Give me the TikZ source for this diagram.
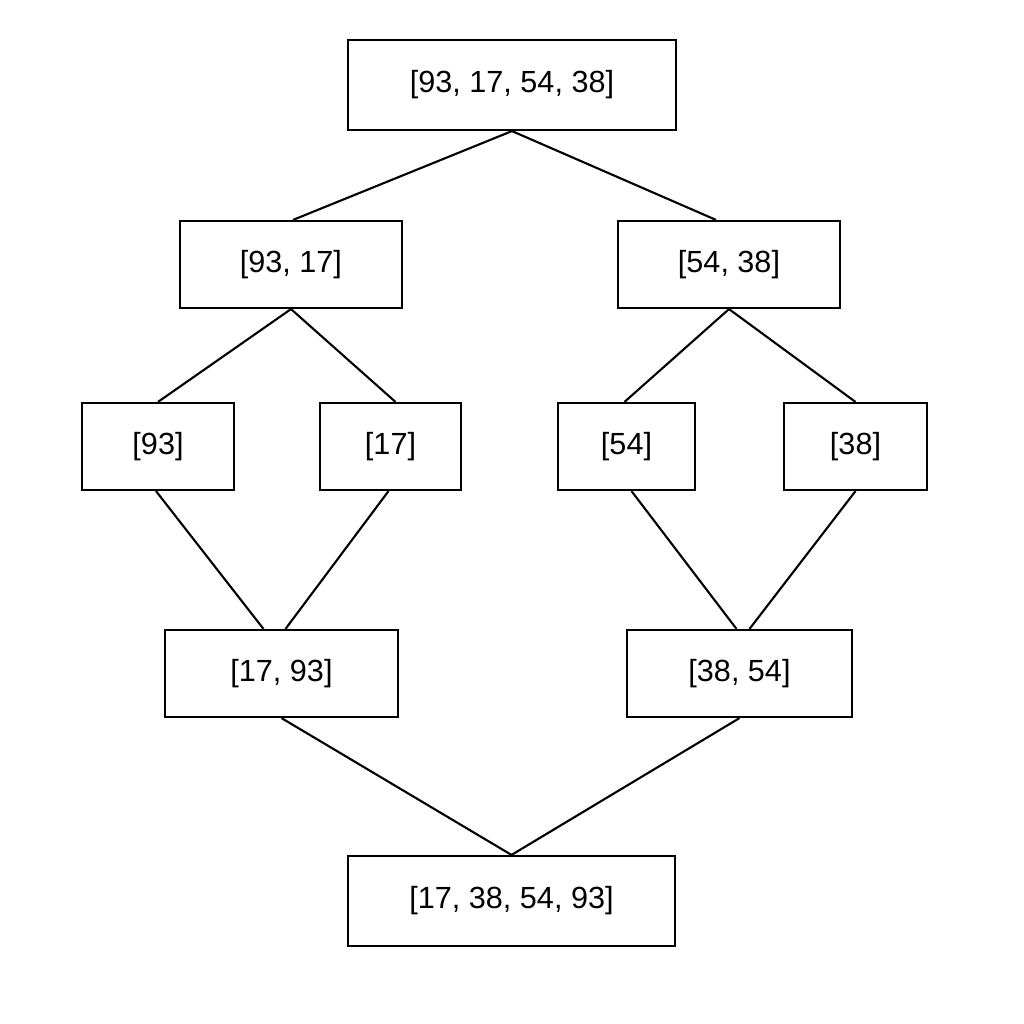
\documentclass[tikz,border=0pt]{standalone}
\usepackage{fontspec}
\setmainfont{Liberation Sans}
\usetikzlibrary{calc,positioning}

\begin{document}
\begin{tikzpicture}[x=0.01cm,y=-0.01cm,
    box/.style={draw,line width=0.6pt,minimum height=0.87cm,inner sep=0pt,font=\fontsize{8.7}{10}\selectfont},
    link/.style={line width=0.6pt}]
\useasboundingbox (0,0) rectangle (1024,1024);
% merge sort tree
\node[box,minimum width=3.28cm,minimum height=0.9cm] (all) at (512,85) {[93, 17, 54, 38]};
\node[box,minimum width=2.22cm] (left) at (291,264.5) {[93, 17]};
\node[box,minimum width=2.22cm] (right) at (729,264.5) {[54, 38]};
\node[box,minimum width=1.52cm] (a) at (158,446.5) {[93]};
\node[box,minimum width=1.41cm] (b) at (390.5,446.5) {[17]};
\node[box,minimum width=1.37cm] (c) at (626.5,446.5) {[54]};
\node[box,minimum width=1.43cm] (d) at (855.5,446.5) {[38]};
\node[box,minimum width=2.33cm] (ab) at (281.5,673.5) {[17, 93]};
\node[box,minimum width=2.25cm] (cd) at (739.5,673.5) {[38, 54]};
\node[box,minimum width=3.27cm,minimum height=0.9cm] (sorted) at (511.5,901) {[17, 38, 54, 93]};

\draw[link] (all.south) -- ($(left.north)+(2,0)$);
\draw[link] (all.south) -- ($(right.north)+(-13,0)$);
\draw[link] (left.south) -- ($(a.north)+(0,0)$);
\draw[link] (left.south) -- ($(b.north)+(5,0)$);
\draw[link] (right.south) -- ($(c.north)+(-2,0)$);
\draw[link] (right.south) -- (d.north);
\draw[link] ($(a.south)+(-2,0)$) -- ($(ab.north)+(-18,0)$);
\draw[link] ($(b.south)+(-2,0)$) -- ($(ab.north)+(4,0)$);
\draw[link] ($(c.south)+(5,0)$) -- ($(cd.north)+(-3,0)$);
\draw[link] (d.south) -- ($(cd.north)+(10,0)$);
\draw[link] (ab.south) -- (sorted.north);
\draw[link] (cd.south) -- (sorted.north);
\end{tikzpicture}
\end{document}
